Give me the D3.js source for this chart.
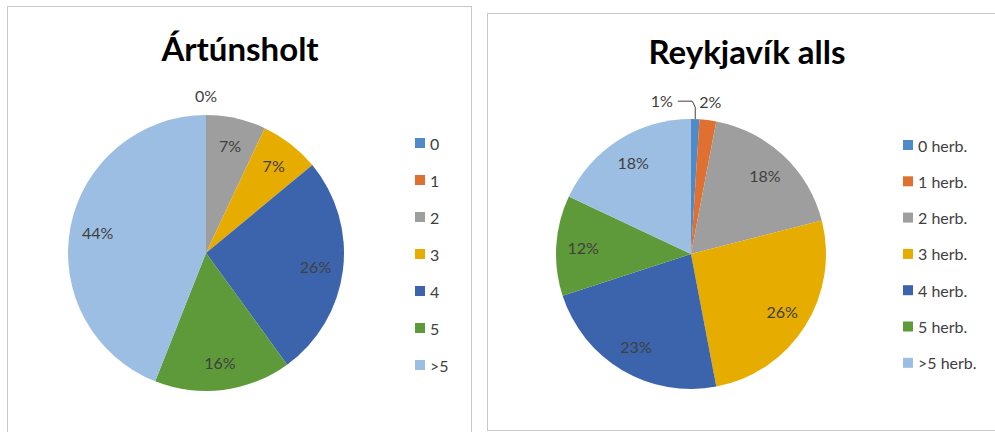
<!DOCTYPE html>
<html>
<head>
<meta charset="utf-8">
<script src="https://cdn.jsdelivr.net/npm/d3@7"></script>
<style>
  body { margin: 0; background: #fff; }
  svg text { font-family: Lato, "Open Sans", sans-serif; fill: #404040; }
</style>
</head>
<body>
<svg id="chart" width="995" height="432"></svg>
<script>
// data (percent of dwellings by number of rooms)
var colors = ["#4e8ac8", "#e07030", "#9e9e9e", "#e6ac00", "#3b64ad", "#5e9a3a", "#9dbee3"];

var leftTitle = "Ártúnsholt";
var leftLabels = ["0", "1", "2", "3", "4", "5", ">5"];
var leftValues = [0, 0, 7, 7, 26, 16, 44];

var rightTitle = "Reykjavík alls";
var rightLabels = ["0 herb.", "1 herb.", "2 herb.", "3 herb.", "4 herb.", "5 herb.", ">5 herb."];
var rightValues = [1, 2, 18, 26, 23, 12, 18];

var svg = d3.select("#chart");

// panel frames
svg.append("rect")
    .attr("x", 7.5).attr("y", 6.5)
    .attr("width", 464).attr("height", 440)
    .attr("fill", "none").attr("stroke", "#c8c8c8");
svg.append("rect")
    .attr("x", 487.5).attr("y", 13.5)
    .attr("width", 520).attr("height", 417)
    .attr("fill", "none").attr("stroke", "#c8c8c8");

function drawPie(opt) {
    var g = svg.append("g")
        .attr("transform", "translate(" + opt.cx + "," + opt.cy + ")");

    var data = opt.values.map(function (v, i) {
        return { name: opt.labels[i], value: v, idx: i };
    });

    var pie = d3.pie()
        .sort(null)
        .value(function (d) { return d.value; });

    var arcs = pie(data);

    var arc = d3.arc().innerRadius(0).outerRadius(opt.r);
    var labelArc = d3.arc().innerRadius(opt.r * 0.8).outerRadius(opt.r * 0.8);
    var outerArc = d3.arc().innerRadius(opt.r * 1.14).outerRadius(opt.r * 1.14);

    g.selectAll("path.slice")
        .data(arcs)
        .enter().append("path")
        .attr("class", "slice")
        .attr("d", arc)
        .attr("fill", function (d) { return colors[d.data.idx]; });

    // labels: small slices go outside
    arcs.forEach(function (d) {
        var small = d.data.value < 5;
        if (opt.skipLabel && opt.skipLabel(d)) return;
        var p = small ? outerArc.centroid(d) : labelArc.centroid(d);
        if (small && opt.shift && opt.shift[d.data.idx]) {
            var s = opt.shift[d.data.idx];
            var mid = (d.startAngle + d.endAngle) / 2;
            var ex = Math.sin(mid) * opt.r, ey = -Math.cos(mid) * opt.r;
            var lx = p[0] + s, ly = p[1];
            // leader line from label to slice edge
            g.append("path")
                .attr("d", "M" + (lx + 16) + "," + (ly + 1) + "L" + (ex - 3) + "," + (ly + 1) + "L" + ex + "," + (ly + 7) + "L" + ex + "," + ey)
                .attr("fill", "none")
                .attr("stroke", "#404040")
                .attr("stroke-width", 1);
            p = [lx, ly];
        }
        g.append("text")
            .attr("x", p[0]).attr("y", p[1])
            .attr("text-anchor", "middle")
            .attr("dominant-baseline", "central")
            .style("font-size", "16px")
            .text(d.data.value + "%");
    });

    svg.append("text")
        .attr("x", opt.titleX).attr("y", opt.titleY)
        .attr("text-anchor", "middle")
        .style("font-size", opt.titleSize)
        .style("font-weight", "bold")
        .style("fill", "#000")
        .text(opt.title);

    var legend = svg.append("g")
        .attr("transform", "translate(" + opt.legX + "," + opt.legY + ")");
    var item = legend.selectAll("g")
        .data(data)
        .enter().append("g")
        .attr("transform", function (d, i) { return "translate(0," + (i * opt.legStep) + ")"; });
    item.append("rect")
        .attr("x", 0).attr("y", -5)
        .attr("width", 10).attr("height", 10)
        .attr("fill", function (d) { return colors[d.idx]; });
    item.append("text")
        .attr("x", 15).attr("y", 0)
        .attr("dominant-baseline", "central")
        .style("font-size", "16px")
        .text(function (d) { return d.name; });
}

drawPie({
    cx: 206, cy: 253, r: 138,
    values: leftValues, labels: leftLabels, title: leftTitle,
    titleX: 240, titleY: 61, titleSize: "33px",
    legX: 415, legY: 143, legStep: 37,
    skipLabel: function (d) { return d.data.idx === 1; }
});

drawPie({
    cx: 691, cy: 254, r: 135,
    values: rightValues, labels: rightLabels, title: rightTitle,
    titleX: 747, titleY: 64, titleSize: "33px",
    legX: 903, legY: 145, legStep: 36.3,
    shift: { 0: -34 }
});
</script>
</body>
</html>
